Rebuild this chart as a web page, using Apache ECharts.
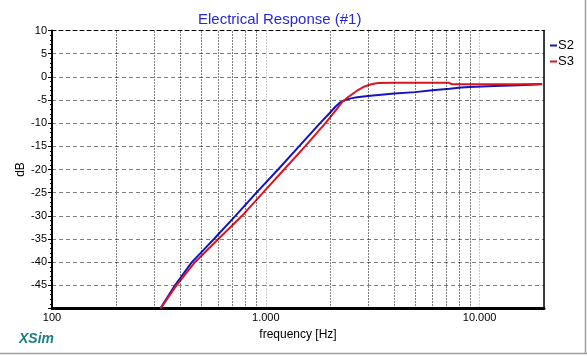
<!DOCTYPE html>
<html>
<head>
<meta charset="utf-8">
<script src="https://cdn.jsdelivr.net/npm/echarts@6/dist/echarts.min.js"></script>
<style>
html,body{margin:0;padding:0;background:#fff;}
#chart{width:587px;height:356px;}
</style>
</head>
<body>
<div id="chart"></div>
<script>
// ---- data ----
var freqS2 = [321, 376, 451, 508, 572, 721, 904, 1141, 1430, 1794, 1990, 2120, 2230, 2350, 2500, 2674, 3000, 4000, 5000, 6000, 7250, 8200, 9000, 11700, 15200, 19600];
var dbS2   = [-50, -45, -40, -37.5, -35, -30, -25, -20, -15, -10, -7.8, -6.4, -5.5, -5.0, -4.65, -4.4, -4.15, -3.6, -3.3, -2.9, -2.55, -2.3, -2.2, -2.0, -1.8, -1.6];
var freqS3 = [322, 382, 466, 600, 774, 970, 1217, 1526, 1900, 2100, 2270, 2420, 2561, 2700, 2853, 3110, 3354, 4000, 5500, 7200, 7400, 10000, 15000, 19600];
var dbS3   = [-50, -45, -40, -35, -30, -25, -20, -15, -10, -7.5, -5.5, -4.4, -3.6, -2.85, -2.2, -1.6, -1.35, -1.3, -1.3, -1.3, -1.6, -1.6, -1.6, -1.55];
var xTickValues = [100, 1000, 10000];
var xTickLabels = ['100', '1.000', '10.000'];
var minorGridFreqs = [200, 300, 400, 500, 600, 700, 800, 900, 2000, 3000, 4000, 5000, 6000, 7000, 8000, 9000];
var yMin = -50, yMax = 10, yStep = 5;

function pairs(xs, ys){ return xs.map(function(x,i){ return [x, ys[i]]; }); }

var chart = echarts.init(document.getElementById('chart'), null, {renderer:'canvas'});
var font = 'Arial, "Liberation Sans", sans-serif';
chart.setOption({
  animation: false,
  backgroundColor: '#fff',
  title: {
    text: 'Electrical Response (#1)',
    left: 193, top: 7,
    textStyle: {fontFamily: font, fontSize: 15, fontWeight: 'normal', color: '#2828d8'}
  },
  legend: {
    orient: 'vertical', left: 545, top: 34, itemGap: 3,
    itemWidth: 7, itemHeight: 2, icon: 'rect',
    textStyle: {fontFamily: font, fontSize: 13, color: '#000', padding: [0,0,0,-4]},
    data: ['S2', 'S3']
  },
  grid: {left: 52, top: 30.5, width: 492, height: 278, containLabel: false},
  xAxis: [{
    type: 'log', logBase: 10, min: 100, max: 20000,
    name: 'frequency [Hz]', nameLocation: 'middle', nameGap: 19,
    nameTextStyle: {fontFamily: font, fontSize: 12, color: '#000'},
    axisLine: {show: true, onZero: false, lineStyle: {color: '#000', width: 3}},
    axisTick: {show: false},
    axisLabel: {margin: 4, fontFamily: font, fontSize: 11, color: '#000',
      formatter: function(v){ var i = xTickValues.indexOf(Math.round(v)); return i >= 0 ? xTickLabels[i] : ''; }},
    splitLine: {show: true, lineStyle: {color: '#9a9a9a', width: 1, type: [1, 2]}}
  }, {
    type: 'log', logBase: 10, min: 100, max: 20000, position: 'top',
    axisLine: {show: true, onZero: false, lineStyle: {color: '#000', width: 1, type: [4, 3]}},
    axisTick: {show: false}, axisLabel: {show: false}, splitLine: {show: false}
  }],
  yAxis: [{
    type: 'value', min: yMin, max: yMax, interval: yStep,
    name: 'dB', nameLocation: 'middle', nameGap: 25, nameMoveOverlap: false,
    nameTextStyle: {fontFamily: font, fontSize: 12, color: '#000'},
    axisLine: {show: true, onZero: false, lineStyle: {color: '#000', width: 2}},
    axisTick: {show: true, length: 4, lineStyle: {color: '#000'}},
    minorTick: {show: true, splitNumber: 5, length: 2, lineStyle: {color: '#000'}},
    axisLabel: {margin: 5, fontFamily: font, fontSize: 11, color: '#000',
      formatter: function(v){ return v === yMin ? '' : String(v); }},
    splitLine: {show: true, lineStyle: {color: '#808080', width: 1, type: [4, 3]}}
  }, {
    type: 'value', min: yMin, max: yMax, interval: yStep, position: 'right',
    axisLine: {show: true, onZero: false, lineStyle: {color: '#000', width: 1.5}},
    axisTick: {show: false}, axisLabel: {show: false}, splitLine: {show: false}
  }],
  series: [{
    name: 'S2', type: 'line', showSymbol: false, symbol: 'none', smooth: false,
    color: '#1414c4', lineStyle: {width: 2, color: '#1414c4'},
    data: pairs(freqS2, dbS2),
    markLine: {
      silent: true, symbol: 'none', label: {show: false},
      lineStyle: {color: '#000', width: 1, type: [1, 2]},
      data: minorGridFreqs.map(function(f){ return {xAxis: f}; })
    },
    z: 3
  }, {
    name: 'S3', type: 'line', showSymbol: false, symbol: 'none', smooth: false,
    color: '#dc1420', lineStyle: {width: 2, color: '#dc1420'},
    data: pairs(freqS3, dbS3),
    z: 4
  }],
  graphic: [
    {type: 'text', left: 19, top: 332, style: {text: 'XSim', font: 'italic bold 14px Arial, "Liberation Sans", sans-serif', fill: '#1e8080'}},
    {type: 'line', shape: {x1: 0, y1: 353.5, x2: 587, y2: 353.5}, style: {stroke: '#a0a0a0', lineWidth: 1.5}},
    {type: 'line', shape: {x1: 585.5, y1: 0, x2: 585.5, y2: 354}, style: {stroke: '#a0a0a0', lineWidth: 1.5}}
  ]
});
</script>
</body>
</html>
